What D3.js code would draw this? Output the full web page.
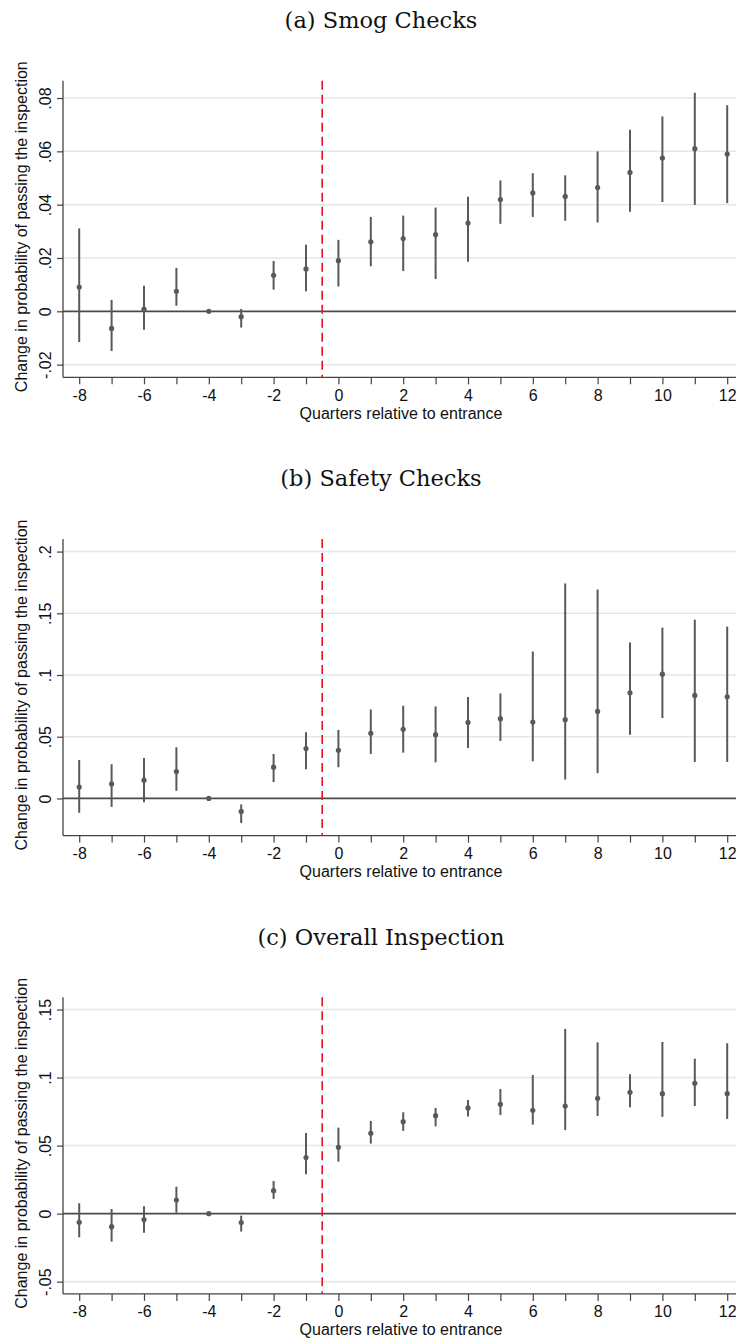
<!DOCTYPE html>
<html>
<head>
<meta charset="utf-8">
<script src="https://cdn.jsdelivr.net/npm/d3@7"></script>
<style>
  body { margin: 0; background: #fff; }
  svg { display: block; }
  svg text { font-family: "Liberation Sans", Arial, sans-serif; }
</style>
</head>
<body>
<div id="graph"></div>
<script>
// event-study coefficients
var quarters = [-8,-7,-6,-5,-4,-3,-2,-1,0,1,2,3,4,5,6,7,8,9,10,11,12];
var xTicks = [-8,-6,-4,-2,0,2,4,6,8,10,12];

var smogEst = [0.0091,-0.0064,0.0008,0.0075,0,-0.0020,0.0135,0.0159,0.0190,0.0261,0.0273,0.0288,0.0331,0.0419,0.0444,0.0431,0.0464,0.0521,0.0575,0.0610,0.0590];
var smogLo  = [-0.0115,-0.0149,-0.0069,0.0021,0,-0.0061,0.0081,0.0075,0.0093,0.0169,0.0151,0.0121,0.0186,0.0328,0.0354,0.0340,0.0333,0.0373,0.0410,0.0399,0.0406];
var smogHi  = [0.0311,0.0043,0.0096,0.0163,0,0.0009,0.0189,0.0250,0.0268,0.0354,0.0359,0.0389,0.0430,0.0491,0.0518,0.0510,0.0600,0.0681,0.0731,0.0820,0.0773];
var smogTicks = [-0.02,0,0.02,0.04,0.06,0.08];
var smogLabels = ['-.02','0','.02','.04','.06','.08'];

var safetyEst = [0.0092,0.0118,0.0148,0.0218,0,-0.0105,0.0253,0.0404,0.0390,0.0528,0.0560,0.0517,0.0616,0.0646,0.0619,0.0638,0.0705,0.0856,0.1007,0.0835,0.0824];
var safetyLo  = [-0.0116,-0.0068,-0.0030,0.0062,0,-0.0199,0.0132,0.0237,0.0253,0.0361,0.0371,0.0293,0.0409,0.0466,0.0301,0.0153,0.0205,0.0517,0.0651,0.0296,0.0296];
var safetyHi  = [0.0312,0.0277,0.0328,0.0415,0,-0.0048,0.0361,0.0536,0.0555,0.0721,0.0751,0.0746,0.0821,0.0851,0.1190,0.1742,0.1693,0.1263,0.1384,0.1448,0.1392];
var safetyTicks = [0,0.05,0.1,0.15,0.2];
var safetyLabels = ['0','.05','.1','.15','.2'];

var overallEst = [-0.0064,-0.0096,-0.0044,0.0100,0,-0.0066,0.0169,0.0412,0.0488,0.0590,0.0676,0.0720,0.0777,0.0804,0.0760,0.0791,0.0848,0.0892,0.0882,0.0958,0.0882];
var overallLo  = [-0.0174,-0.0206,-0.0140,0.0007,0,-0.0132,0.0108,0.0289,0.0382,0.0515,0.0608,0.0642,0.0713,0.0725,0.0654,0.0615,0.0718,0.0782,0.0711,0.0791,0.0696];
var overallHi  = [0.0076,0.0034,0.0054,0.0198,0,-0.0015,0.0240,0.0593,0.0632,0.0681,0.0745,0.0777,0.0835,0.0916,0.1019,0.1357,0.1259,0.1024,0.1262,0.1139,0.1252];
var overallTicks = [-0.05,0,0.05,0.1,0.15];
var overallLabels = ['-.05','0','.05','.1','.15'];

var titles = ['(a) Smog Checks', '(b) Safety Checks', '(c) Overall Inspection'];
var yDomains = [[-0.02475, 0.0865], [-0.0301, 0.2102], [-0.059, 0.159]];

var W = 736, H = 1343, panelStep = 458.3;
var margin = {top: 80.7, left: 63, plotH: 296.6};

var svg = d3.select('#graph').append('svg')
    .attr('width', W)
    .attr('height', H);

var x = d3.scaleLinear()
    .domain([-8.5, 12.5])
    .range([margin.left, margin.left + 21 * 32.4]);

var panels = [
    {est: smogEst, lo: smogLo, hi: smogHi, ticks: smogTicks, labels: smogLabels},
    {est: safetyEst, lo: safetyLo, hi: safetyHi, ticks: safetyTicks, labels: safetyLabels},
    {est: overallEst, lo: overallLo, hi: overallHi, ticks: overallTicks, labels: overallLabels}
];

panels.forEach(function(p, i) {
    var off = i * panelStep;
    var top = margin.top + off, bottom = top + margin.plotH;
    var g = svg.append('g');

    var y = d3.scaleLinear()
        .domain(yDomains[i])
        .range([bottom, top]);

    g.append('text')
        .attr('x', 381)
        .attr('y', 28 + off)
        .attr('text-anchor', 'middle')
        .style('font-family', '"DejaVu Serif", serif')
        .style('font-size', '22.5px')
        .attr('fill', '#111')
        .text(titles[i]);

    // grid
    g.selectAll('.grid')
        .data(p.ticks.filter(function(t) { return t !== 0; }))
        .enter().append('line')
        .attr('x1', margin.left)
        .attr('x2', W)
        .attr('y1', function(d) { return y(d); })
        .attr('y2', function(d) { return y(d); })
        .attr('stroke', '#e6e6e6')
        .attr('stroke-width', 1.5);

    // zero line
    g.append('line')
        .attr('x1', margin.left).attr('x2', W)
        .attr('y1', y(0)).attr('y2', y(0))
        .attr('stroke', '#4a4a4a')
        .attr('stroke-width', 1.7);

    // left axis
    var yAxis = g.append('g')
        .attr('transform', 'translate(' + margin.left + ',0)')
        .call(d3.axisLeft(y).tickValues(p.ticks).tickSize(6)
            .tickFormat(function(d, k) { return p.labels[k]; }));
    yAxis.select('.domain').attr('stroke', '#444').attr('stroke-width', 1.3)
        .attr('d', 'M0,' + top + 'V' + bottom);
    yAxis.selectAll('.tick line').attr('stroke', '#444').attr('stroke-width', 1.2);
    yAxis.selectAll('.tick text')
        .attr('x', 0).attr('y', 0).attr('dy', 0)
        .attr('transform', 'translate(-12.5,0) rotate(-90)')
        .attr('text-anchor', 'middle')
        .style('font-size', '16px')
        .attr('fill', '#111');

    // bottom axis
    var xAxis = g.append('g')
        .attr('transform', 'translate(0,' + bottom + ')')
        .call(d3.axisBottom(x).tickValues(quarters).tickSize(7)
            .tickFormat(function(d) { return xTicks.indexOf(d) >= 0 ? d : ''; }));
    xAxis.select('.domain').attr('stroke', '#444').attr('stroke-width', 1.3)
        .attr('d', 'M' + margin.left + ',0H' + W);
    xAxis.selectAll('.tick line').attr('stroke', '#444').attr('stroke-width', 1.2);
    xAxis.selectAll('.tick text')
        .attr('y', 12).attr('dy', '0.71em')
        .style('font-size', '16px')
        .attr('fill', '#111');

    g.append('text')
        .attr('x', 401)
        .attr('y', bottom + 41.5)
        .attr('text-anchor', 'middle')
        .style('font-size', '16px')
        .attr('fill', '#111')
        .text('Quarters relative to entrance');

    g.append('text')
        .attr('transform', 'translate(27,' + (top + 146) + ') rotate(-90)')
        .attr('text-anchor', 'middle')
        .style('font-size', '16px')
        .attr('fill', '#111')
        .text('Change in probability of passing the inspection');

    // entry line
    g.append('line')
        .attr('x1', x(-0.5)).attr('x2', x(-0.5))
        .attr('y1', top).attr('y2', bottom)
        .attr('stroke', '#e8141c')
        .attr('stroke-width', 1.6)
        .attr('stroke-dasharray', '9,5');

    // CIs and points
    g.selectAll('.ci')
        .data(quarters)
        .enter().append('line')
        .attr('x1', function(d) { return x(d); })
        .attr('x2', function(d) { return x(d); })
        .attr('y1', function(d, k) { return y(p.lo[k]); })
        .attr('y2', function(d, k) { return y(p.hi[k]); })
        .attr('stroke', '#595959')
        .attr('stroke-width', 2);

    g.selectAll('.pt')
        .data(quarters)
        .enter().append('circle')
        .attr('cx', function(d) { return x(d); })
        .attr('cy', function(d, k) { return y(p.est[k]); })
        .attr('r', 2.6)
        .attr('fill', '#595959');
});
</script>
</body>
</html>
